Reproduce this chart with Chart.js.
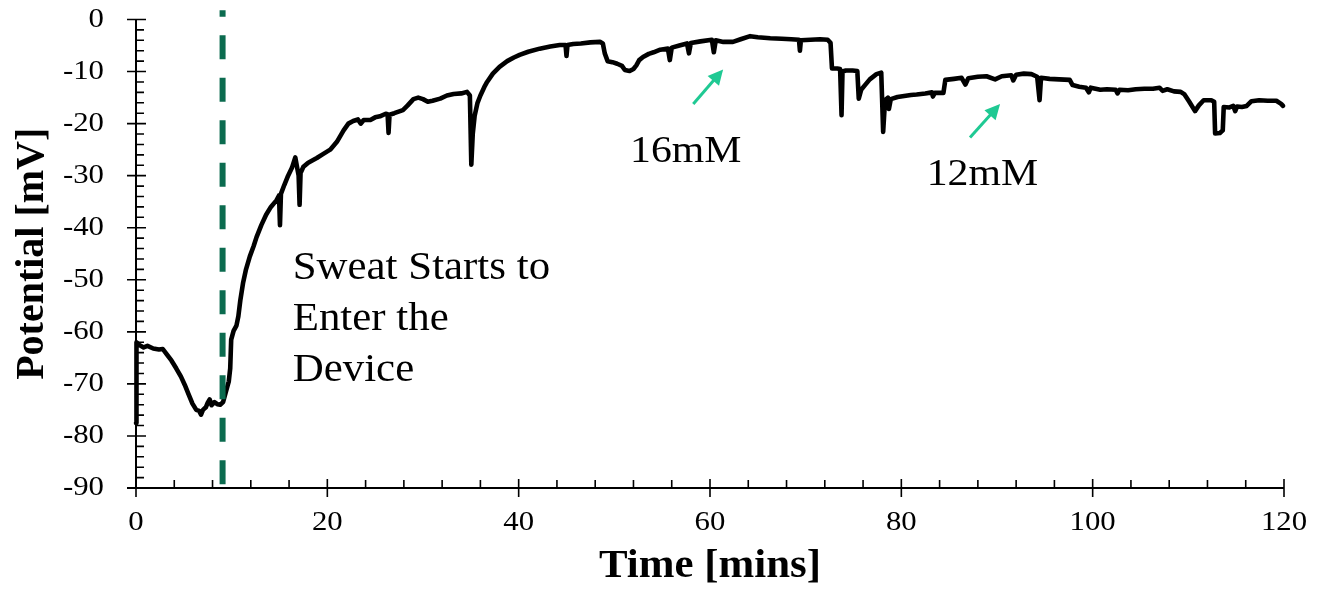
<!DOCTYPE html>
<html><head><meta charset="utf-8">
<script src="https://cdn.jsdelivr.net/npm/chart.js@4.4.0/dist/chart.umd.min.js"></script>
<style>html,body{margin:0;padding:0;background:#fff;}canvas{display:block;}</style>
</head><body>
<canvas id="c" width="1324" height="590"></canvas>
<script>
// ---- data ----
const TIME_MIN = [
 0.0,0.05,0.3,0.8,1.2,1.8,2.4,2.8,3.2,3.7,
 4.2,4.7,5.1,5.5,5.9,6.3,6.6,6.8,7.0,7.3,
 7.5,7.7,7.9,8.2,8.5,8.8,9.1,9.4,9.7,9.85,
 9.95,10.2,10.5,10.7,10.9,11.2,11.5,11.9,12.3,12.6,
 13.1,13.6,14.1,14.7,14.95,15.05,15.15,15.5,15.9,16.3,
 16.65,16.85,17.0,17.1,17.2,17.5,18.0,18.9,19.5,20.3,
 21.0,21.7,22.2,22.7,23.2,23.5,23.8,24.5,25.0,25.5,
 26.1,26.3,26.4,26.5,27.0,27.9,28.4,29.0,29.5,30.0,
 30.5,31.0,31.8,32.5,33.2,34.0,34.6,34.9,35.05,35.2,
 35.4,35.7,36.0,36.4,36.7,37.3,38.0,38.8,39.5,40.1,
 41.0,42.2,43.3,44.3,44.9,45.0,45.1,45.7,46.5,47.5,
 48.5,48.8,49.0,49.3,49.8,50.3,50.8,51.1,51.6,52.0,
 52.3,52.6,53.0,53.6,54.1,54.8,55.6,55.8,56.0,56.8,
 57.6,57.8,58.0,59.0,60.2,60.4,60.6,61.4,62.4,63.2,
 64.2,65.0,66.3,67.5,68.5,69.3,69.4,69.5,70.5,71.5,
 72.3,72.6,72.75,73.3,73.6,73.75,73.85,74.2,74.9,75.4,
 75.55,75.8,76.2,76.7,77.4,77.9,78.1,78.3,78.6,78.7,
 78.9,79.6,80.3,81.0,81.6,82.5,83.2,83.3,83.5,84.4,
 84.6,85.5,86.3,86.7,87.0,88.0,88.9,89.8,90.5,91.5,
 91.7,92.0,92.8,93.6,94.2,94.45,94.6,95.5,96.5,97.6,
 97.9,98.6,99.3,99.6,99.8,100.8,101.5,102.4,102.6,102.8,
 103.7,104.5,105.4,106.3,107.0,107.3,107.8,108.5,109.2,109.6,
 110.1,110.7,111.1,111.6,112.4,112.7,112.8,113.3,113.6,113.7,
 114.3,114.7,114.9,115.1,115.6,116.1,116.6,117.4,118.3,119.2,
 119.7,119.9
];
const POTENTIAL_MV = [
 -77.5,-62.0,-62.5,-63.0,-62.7,-63.2,-63.4,-63.3,-64.3,-65.5,
 -67.0,-68.6,-70.2,-72.0,-73.8,-75.0,-75.2,-75.9,-75.0,-74.5,
 -73.6,-73.0,-74.1,-73.5,-73.9,-74.0,-73.5,-71.5,-69.5,-67.0,
 -61.5,-59.8,-58.8,-57.0,-54.0,-50.5,-48.0,-45.5,-43.5,-41.8,
 -39.5,-37.5,-36.0,-34.7,-33.8,-39.5,-33.5,-31.8,-30.0,-28.5,
 -26.5,-28.5,-30.0,-35.6,-29.5,-28.3,-27.5,-26.6,-25.9,-25.0,
 -23.5,-21.3,-20.0,-19.5,-19.2,-20.0,-19.3,-19.3,-18.8,-18.6,
 -18.1,-18.2,-21.8,-18.3,-18.0,-17.4,-16.5,-15.3,-15.0,-15.3,
 -15.8,-15.6,-15.2,-14.6,-14.3,-14.2,-13.9,-14.6,-27.9,-22.0,
 -18.5,-16.0,-14.6,-13.0,-12.0,-10.4,-9.1,-8.0,-7.3,-6.8,
 -6.2,-5.6,-5.2,-4.9,-4.9,-7.0,-4.9,-4.7,-4.6,-4.4,
 -4.3,-4.6,-6.5,-8.0,-8.2,-8.5,-8.9,-9.7,-9.9,-9.5,
 -8.8,-7.8,-7.2,-6.6,-6.3,-5.8,-5.6,-7.8,-5.4,-5.0,
 -4.6,-6.5,-4.5,-4.2,-3.9,-6.3,-4.0,-4.3,-4.3,-3.8,
 -3.2,-3.4,-3.6,-3.7,-3.8,-3.9,-6.0,-4.0,-3.9,-3.8,
 -3.9,-4.5,-9.4,-9.4,-9.5,-18.4,-10.0,-9.8,-9.8,-9.9,
 -15.2,-13.5,-12.6,-11.5,-10.5,-10.2,-21.6,-15.5,-15.0,-17.2,
 -15.3,-14.9,-14.7,-14.5,-14.4,-14.2,-14.0,-14.8,-14.1,-14.1,
 -11.6,-11.4,-11.2,-12.5,-11.3,-11.0,-10.9,-11.5,-10.9,-10.7,
 -11.7,-10.6,-10.4,-10.5,-11.0,-15.5,-11.2,-11.4,-11.5,-11.6,
 -12.6,-12.9,-13.1,-14.0,-13.1,-13.5,-13.4,-13.5,-14.2,-13.5,
 -13.6,-13.4,-13.3,-13.3,-13.1,-13.7,-13.4,-13.8,-13.9,-14.4,
 -15.8,-17.6,-16.5,-15.5,-15.5,-15.8,-21.9,-21.8,-21.3,-16.8,
 -16.9,-16.6,-17.6,-16.7,-16.8,-16.6,-15.7,-15.5,-15.6,-15.6,
 -16.2,-16.6
];
const X_TICKS = [0,20,40,60,80,100,120];
const Y_TICKS = [0,-10,-20,-30,-40,-50,-60,-70,-80,-90];
const X_MINOR_STEP = 4;
const Y_MINOR_STEP = 2;
const SWEAT_START_MIN = 9.05;
const MARKER_SPAN_MV = [-89.3, 1.8];
const SWEAT_TEXT = ["Sweat Starts to","Enter the","Device"];
const SWEAT_TEXT_AT = [16.38, -49.77];
const LABELS = [
  {text:"16mM", at:[51.64,-27.46], arrowFrom:[58.25,-16.25], arrowTo:[61.37,-9.6]},
  {text:"12mM", at:[82.65,-31.83], arrowFrom:[87.18,-22.65], arrowTo:[90.32,-16.25]}
];

// ---- styles ----
const SERIF = "'Liberation Serif','Times New Roman',Times,serif";
const SX = 1.1; // horizontal stretch of the reference text

const stretchText = {
  id:'stretchText',
  beforeInit(chart){
    const ctx = chart.ctx;
    const orig = ctx.fillText.bind(ctx);
    ctx.fillText = function(t,x,y,mw){
      const m = ctx.getTransform();
      if (Math.abs(m.b) > 1e-6) { return mw===undefined ? orig(t,x,y) : orig(t,x,y,mw); }
      ctx.save(); ctx.translate(x,y); ctx.scale(SX,1);
      if (mw===undefined) orig(t,0,0); else orig(t,0,0,mw/SX);
      ctx.restore();
    };
  },
  beforeDraw(chart){
    const c = chart.ctx; c.save(); c.fillStyle='#fff'; c.fillRect(0,0,chart.width,chart.height); c.restore();
  }
};

const axesPlugin = {
  id:'axesPlugin',
  beforeDatasetsDraw(chart){
    const {ctx, scales:{x,y}} = chart;
    const x0 = x.getPixelForValue(0), x1 = x.getPixelForValue(120);
    const yTop = y.getPixelForValue(0), yBot = y.getPixelForValue(-90);
    ctx.save();
    ctx.strokeStyle = '#000';
    ctx.lineWidth = 2;
    ctx.beginPath();
    ctx.moveTo(x0, yTop); ctx.lineTo(x0, yBot);
    ctx.moveTo(x0-9, yBot); ctx.lineTo(x1, yBot);
    ctx.stroke();
    ctx.lineWidth = 1.6;
    ctx.beginPath();
    for (let v = 0; v >= -90; v -= Y_MINOR_STEP) {
      const py = y.getPixelForValue(v);
      if (Y_TICKS.includes(v)) { ctx.moveTo(x0-9, py); ctx.lineTo(x0+10, py); }
      else { ctx.moveTo(x0, py); ctx.lineTo(x0+8, py); }
    }
    for (let t = 0; t <= 120; t += X_MINOR_STEP) {
      const px = x.getPixelForValue(t);
      if (X_TICKS.includes(t)) { ctx.moveTo(px, yBot-9); ctx.lineTo(px, yBot+9); }
      else { ctx.moveTo(px, yBot-8); ctx.lineTo(px, yBot); }
    }
    ctx.stroke();
    ctx.restore();
  }
};

const annotPlugin = {
  id:'annotPlugin',
  afterDatasetsDraw(chart){
    const {ctx, scales:{x,y}} = chart;
    ctx.save();
    ctx.fillStyle = '#000';
    ctx.textAlign = 'left';
    ctx.textBaseline = 'alphabetic';
    ctx.font = "39px " + SERIF;
    const sx = x.getPixelForValue(SWEAT_TEXT_AT[0]);
    const sy = y.getPixelForValue(SWEAT_TEXT_AT[1]);
    SWEAT_TEXT.forEach((s,i)=> ctx.fillText(s, sx, sy + i*51));
    ctx.font = "38px " + SERIF;
    LABELS.forEach(l=>{
      ctx.fillStyle = '#000';
      ctx.fillText(l.text, x.getPixelForValue(l.at[0]), y.getPixelForValue(l.at[1]));
      const ax = x.getPixelForValue(l.arrowFrom[0]), ay = y.getPixelForValue(l.arrowFrom[1]);
      const bx = x.getPixelForValue(l.arrowTo[0]), by = y.getPixelForValue(l.arrowTo[1]);
      const ang = Math.atan2(by-ay, bx-ax);
      const hl = 15, hw = 7.5;
      const baseX = bx - hl*Math.cos(ang), baseY = by - hl*Math.sin(ang);
      ctx.strokeStyle = '#1fc993'; ctx.fillStyle = '#1fc993';
      ctx.lineWidth = 3;
      ctx.beginPath(); ctx.moveTo(ax,ay); ctx.lineTo(baseX+2*Math.cos(ang), baseY+2*Math.sin(ang)); ctx.stroke();
      ctx.beginPath();
      ctx.moveTo(bx,by);
      ctx.lineTo(baseX + hw*Math.sin(ang), baseY - hw*Math.cos(ang));
      ctx.lineTo(baseX - hw*Math.sin(ang), baseY + hw*Math.cos(ang));
      ctx.closePath(); ctx.fill();
    });
    ctx.restore();
  }
};

const points = TIME_MIN.map((t,i)=>({x:t, y:POTENTIAL_MV[i]}));
const marker = MARKER_SPAN_MV.map(v=>({x:SWEAT_START_MIN, y:v}));

new Chart(document.getElementById('c'), {
  type:'line',
  data:{datasets:[
    {data:marker, borderColor:'#0b6b4f', borderWidth:6, borderDash:[24,18.5], pointRadius:0, clip:false, order:0, borderCapStyle:'butt'},
    {data:points, borderColor:'#000', borderWidth:4.6, pointRadius:0, tension:0, clip:false, order:1, borderJoinStyle:'round', borderCapStyle:'round'}
  ]},
  options:{
    responsive:false, animation:false, parsing:true,
    layout:{padding:{left:0,right:40,top:19.5,bottom:0}},
    plugins:{legend:{display:false}, tooltip:{enabled:false}},
    scales:{
      x:{type:'linear', min:0, max:120,
        afterBuildTicks(s){ s.ticks = X_TICKS.map(v=>({value:v})); },
        afterFit(s){ s.height = 102; },
        grid:{display:false, drawTicks:true, tickLength:18}, border:{display:false},
        ticks:{padding:0, color:'#000', font:{family:SERIF, size:28}, maxRotation:0, autoSkip:false, callback:v=>String(v)},
        title:{display:true, text:'Time [mins]', color:'#000', font:{family:SERIF, size:39, weight:'bold'}, padding:{top:0,bottom:0}}
      },
      y:{type:'linear', min:-90, max:0,
        afterBuildTicks(s){ s.ticks = Y_TICKS.slice().reverse().map(v=>({value:v})); },
        afterFit(s){ s.width = 136; },
        grid:{display:false, drawTicks:true, tickLength:32}, border:{display:false},
        ticks:{padding:0, color:'#000', font:{family:SERIF, size:28}, autoSkip:false, callback:v=>String(v)},
        title:{display:true, text:'Potential [mV]', color:'#000', font:{family:SERIF, size:40, weight:'bold'}, padding:{top:8.5,bottom:0}}
      }
    }
  },
  plugins:[stretchText, axesPlugin, annotPlugin]
});
</script>
</body></html>
